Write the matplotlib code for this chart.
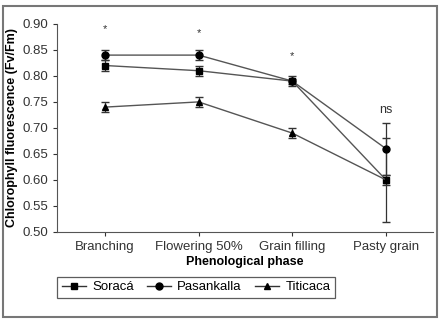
import matplotlib
matplotlib.use("Agg")
import matplotlib.pyplot as plt
from matplotlib.patches import Rectangle
from matplotlib.lines import Line2D

plt.rcParams['font.family'] = ['Liberation Sans', 'DejaVu Sans']

phases = ["Branching", "Flowering 50%", "Grain filling", "Pasty grain"]
soraca = [0.82, 0.81, 0.79, 0.60]
soraca_err = [0.01, 0.01, 0.005, 0.01]
pasankalla = [0.84, 0.84, 0.79, 0.66]
pasankalla_err = [0.01, 0.01, 0.01, 0.05]
titicaca = [0.74, 0.75, 0.69, 0.60]
titicaca_err = [0.01, 0.01, 0.01, 0.08]
signif = ["*", "*", "*", "ns"]
signif_y = [0.89, 0.883, 0.838, 0.735]

fig = plt.figure(figsize=(4.43, 3.23), dpi=100)
ax = fig.add_axes([0.129, 0.282, 0.848, 0.644])

x = list(range(len(phases)))
kw = dict(color="#555555", lw=1.0, ecolor="#333333", elinewidth=0.9, capsize=3,
          markerfacecolor="black", markeredgecolor="black", markersize=5)
handles = []
for vals, err, m, name in [(soraca, soraca_err, "s", "Soracá"),
                           (pasankalla, pasankalla_err, "o", "Pasankalla"),
                           (titicaca, titicaca_err, "^", "Titicaca")]:
    ax.errorbar(x, vals, yerr=err, marker=m, **kw)
    handles.append(Line2D([], [], color="#333333", lw=1.0, marker=m, markerfacecolor="black",
                          markeredgecolor="black", markersize=5, label=name))

for xi, s, yy in zip(x, signif, signif_y):
    ax.text(xi, yy, s, ha="center", va="center", fontsize=9 if s == "ns" else 8, color="#333333")

ax.set_xlim(-0.51, 3.5)
ax.set_ylim(0.50, 0.90)
ax.set_yticks([0.50, 0.55, 0.60, 0.65, 0.70, 0.75, 0.80, 0.85, 0.90])
ax.set_yticklabels(["0.50", "0.55", "0.60", "0.65", "0.70", "0.75", "0.80", "0.85", "0.90"])
ax.set_xticks(x)
ax.set_xticklabels(phases)
ax.tick_params(labelsize=9.5, colors="#333333", length=3)
for side in ["top", "right"]:
    ax.spines[side].set_visible(False)
for side in ["left", "bottom"]:
    ax.spines[side].set_color("#555555")
ax.set_xlabel("Phenological phase", fontsize=9, fontweight="bold", labelpad=2)
ax.set_ylabel("Chlorophyll fluorescence (Fv/Fm)", fontsize=9, fontweight="bold", labelpad=3)

leg = ax.legend(handles=handles, loc="upper left", bbox_to_anchor=(0.0, -0.215), ncol=3,
                fontsize=9.5, frameon=True, fancybox=False, edgecolor="#333333",
                handlelength=1.8, columnspacing=1.0, borderpad=0.35, handletextpad=0.5,
                borderaxespad=0)
leg.get_frame().set_linewidth(0.9)

fig.patches.append(Rectangle((3 / 443, 6 / 323), 434 / 443, 311 / 323, transform=fig.transFigure,
                             fill=False, edgecolor="#777777", lw=1.5))

fig.savefig("out.png", dpi=100)
